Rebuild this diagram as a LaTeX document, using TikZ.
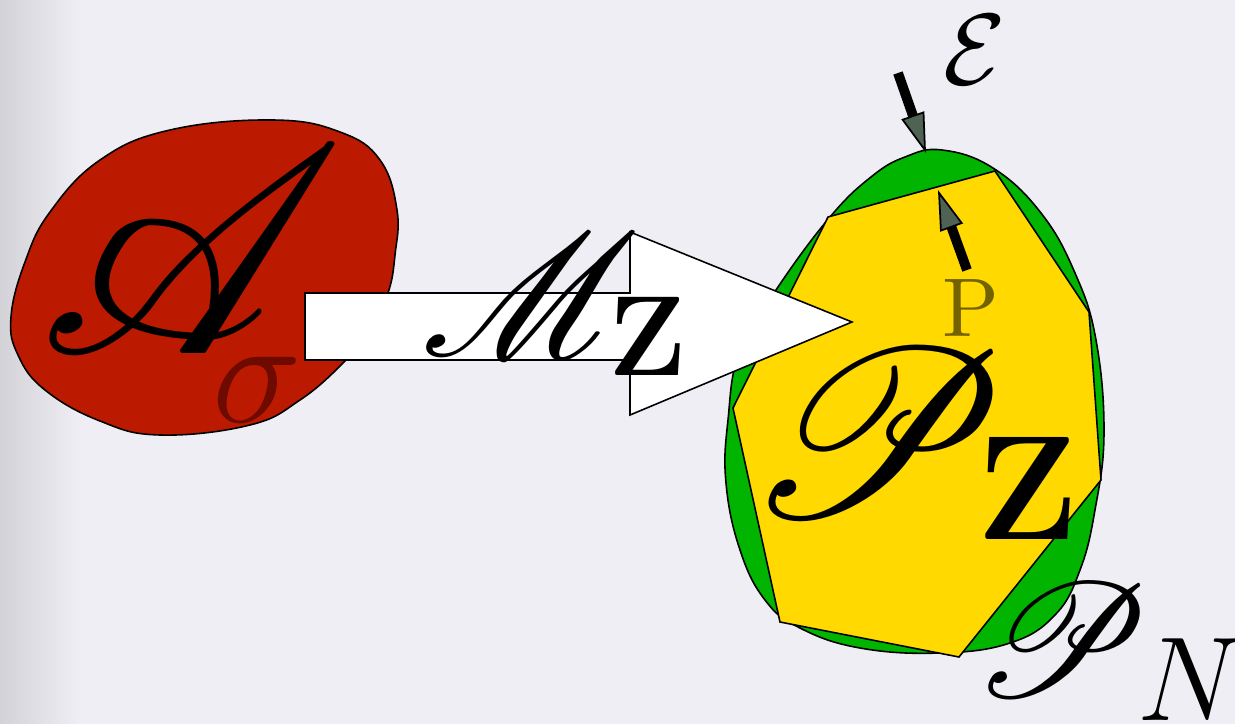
\documentclass[tikz,border=0pt]{standalone}
\usetikzlibrary{arrows.meta}
\definecolor{bg}{RGB}{239,238,244}
\definecolor{bgdark}{RGB}{210,210,215}
\definecolor{blobred}{RGB}{188,26,0}
\definecolor{sigred}{RGB}{110,10,0}
\definecolor{blobgreen}{RGB}{0,180,0}
\definecolor{polyyellow}{RGB}{255,217,0}
\definecolor{olive}{RGB}{115,98,0}
\definecolor{tipfill}{RGB}{79,99,84}
\font\scrA=rsfs10 at 84pt
\font\scrM=rsfs10 at 50pt
\font\scrPZ=rsfs10 at 68pt
\font\scrPN=rsfs10 at 46pt
\font\sigf=cmmi12 at 43pt
\font\Nf=cmmi12 at 34pt
\font\Ef=cmsy10 at 28.8pt
\font\bfZa=cmbx12 at 32.4pt
\font\bfZb=cmbx12 at 42.3pt
\font\Pf=cmr10 at 23.7pt
\begin{document}
\begin{tikzpicture}[x=0.01cm,y=-0.01cm,
  lbl/.style={inner sep=0pt,outer sep=0pt,anchor=center},
  outline/.style={draw=black,line width=0.45pt},
  pointer/.style={line width=2.8pt,line cap=butt,
    -{Triangle[length=0.4cm,width=0.24cm,fill=tipfill,line width=0.5pt]}}]
\useasboundingbox (0,0) rectangle (1235,724);
\fill[bg] (0,0) rectangle (1235,724);
\shade[left color=bgdark,right color=bg] (0,0) rectangle (80,724);
% red blob
\path[outline,fill=blobred] plot[smooth cycle,tension=0.7] coordinates {
 (11,317) (25,262) (50,212) (100,160) (170,130) (273,120) (340,132) (380,160)
 (397,210) (395,255) (388,293) (370,330) (343,363) (300,400) (250,425) (160,435)
 (100,421) (45,390) (18,355)};
\node[lbl] (A) at (158,250) {\scrA A};
\node[lbl,text=sigred] (sig) at (255,390) {\sigf\char27};
% green blob and yellow polygon
\path[outline,fill=blobgreen] plot[smooth cycle,tension=0.7] coordinates {
 (942,150) (993,168) (1041,213) (1075,273) (1096,340) (1104,433) (1095,510)
 (1080,570) (1055,615) (1010,643) (940,653) (860,648) (800,628) (765,600)
 (740,550) (726,483) (728,420) (740,350) (778,287) (830,217) (871,177) (905,157)};
\path[outline,fill=polyyellow] (828,217) -- (995,171) -- (1089,312) -- (1101,480)
 -- (959,657) -- (780,622) -- (733,408) -- cycle;
% white arrow
\path[outline,fill=white] (305,293) -- (630,293) -- (630,232) -- (852,322)
 -- (630,415) -- (630,360) -- (305,360) -- cycle;
\node[lbl] (M) at (516,295) {\scrM M};
\node[lbl] (MZ) at (648,336) {\bfZa Z};
% right side labels
\node[lbl] (eps) at (970,50) {\Ef E};
\node[lbl,text=olive] (Plab) at (971,308) {\Pf P};
\node[lbl] (PZ) at (868,433) {\scrPZ P};
\node[lbl] (PZZ) at (1028,488) {\bfZb Z};
\node[lbl] (PN) at (1055,640) {\scrPN P};
\node[lbl] (PNN) at (1184,680) {\Nf N};
\coordinate (epsstart) at (898,73);
\coordinate (epstip) at (926,153);
\coordinate (pstart) at (967,270);
\coordinate (ptip) at (938,190);
\draw[pointer] (epsstart) -- (epstip);
\draw[pointer] (pstart) -- (ptip);
\end{tikzpicture}
\end{document}
